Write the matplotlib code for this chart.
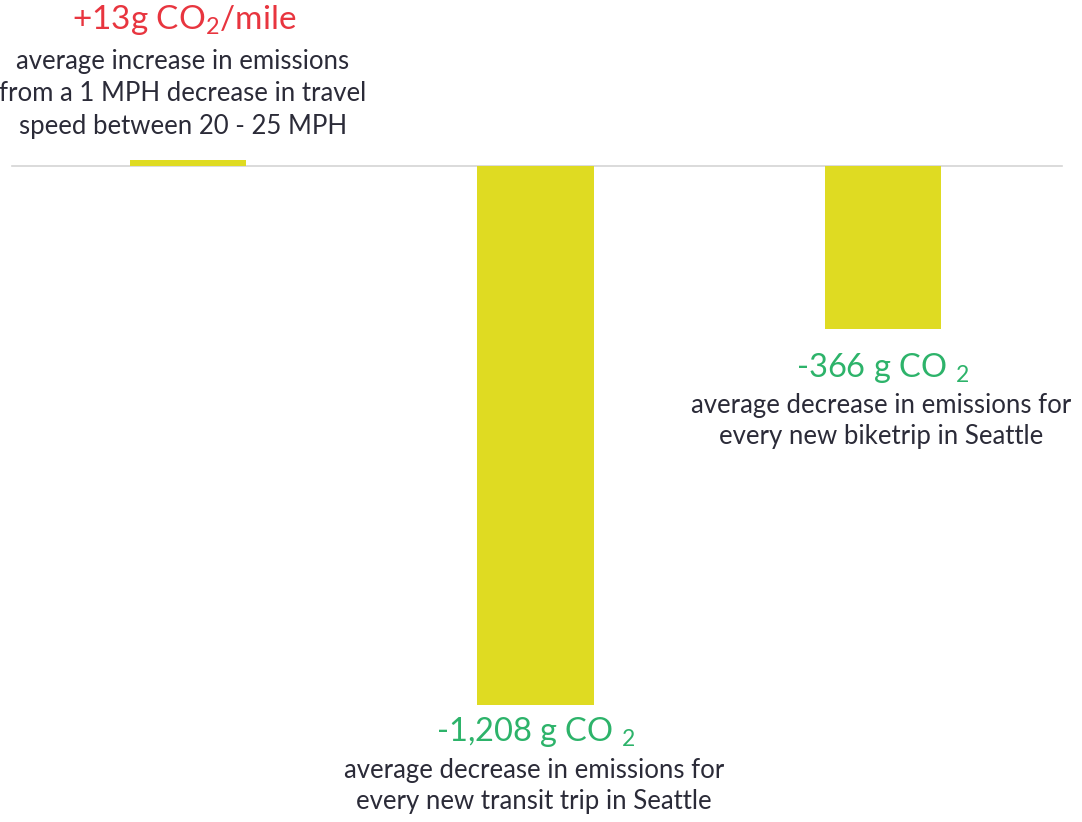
import matplotlib.pyplot as plt

plt.rcParams['font.family'] = ['Lato', 'DejaVu Sans']
plt.rcParams['mathtext.fontset'] = 'custom'
plt.rcParams['mathtext.rm'] = 'Lato'
plt.rcParams['mathtext.it'] = 'Lato'

# data
categories = ['speed', 'transit', 'bike']
values = [13, -1208, -366]
headlines = [r'+13g CO$_2$/mile', r'-1,208 g CO $_2$', r'-366 g CO $_2$']
notes = ['average increase in emissions\nfrom a 1 MPH decrease in travel\nspeed between 20 - 25 MPH',
         'average decrease in emissions for\nevery new transit trip in Seattle',
         'average decrease in emissions for\nevery new biketrip in Seattle']

bar_col = '#dfdb22'
red = '#e8353f'
green = '#2db36a'
dark = '#2b2b38'

fig = plt.figure(figsize=(10.82, 8.22), dpi=100)
ax = fig.add_axes([0, 0, 1, 1])
ax.set_xlim(-0.541, 2.573)
ax.set_ylim(-1470, 372)
ax.axis('off')

x = range(len(categories))
ax.plot([-0.506, 2.515], [0, 0], color='#d4d4d4', lw=1.2, zorder=1)
ax.bar(x, values, width=0.335, color=bar_col, zorder=2)

# positive bar: labels stacked above
ax.text(-0.012, 327, headlines[0], color=red, fontsize=24, ha='center', va='center')
ax.text(-0.015, 162, notes[0], color=dark, fontsize=18.5, ha='center', va='center',
        linespacing=1.38)

# negative bars: labels below the bar end
head_off = {1: -60, 2: -87}
note_off = {1: -182, 2: -206}
for i in (1, 2):
    v = values[i]
    ax.text(i, v + head_off[i], headlines[i], color=green, fontsize=23.5,
            ha='center', va='center')
    ax.text(i - 0.005, v + note_off[i], notes[i], color=dark, fontsize=18.5,
            ha='center', va='center', linespacing=1.32)

fig.savefig('out.png', dpi=100, facecolor='white')
